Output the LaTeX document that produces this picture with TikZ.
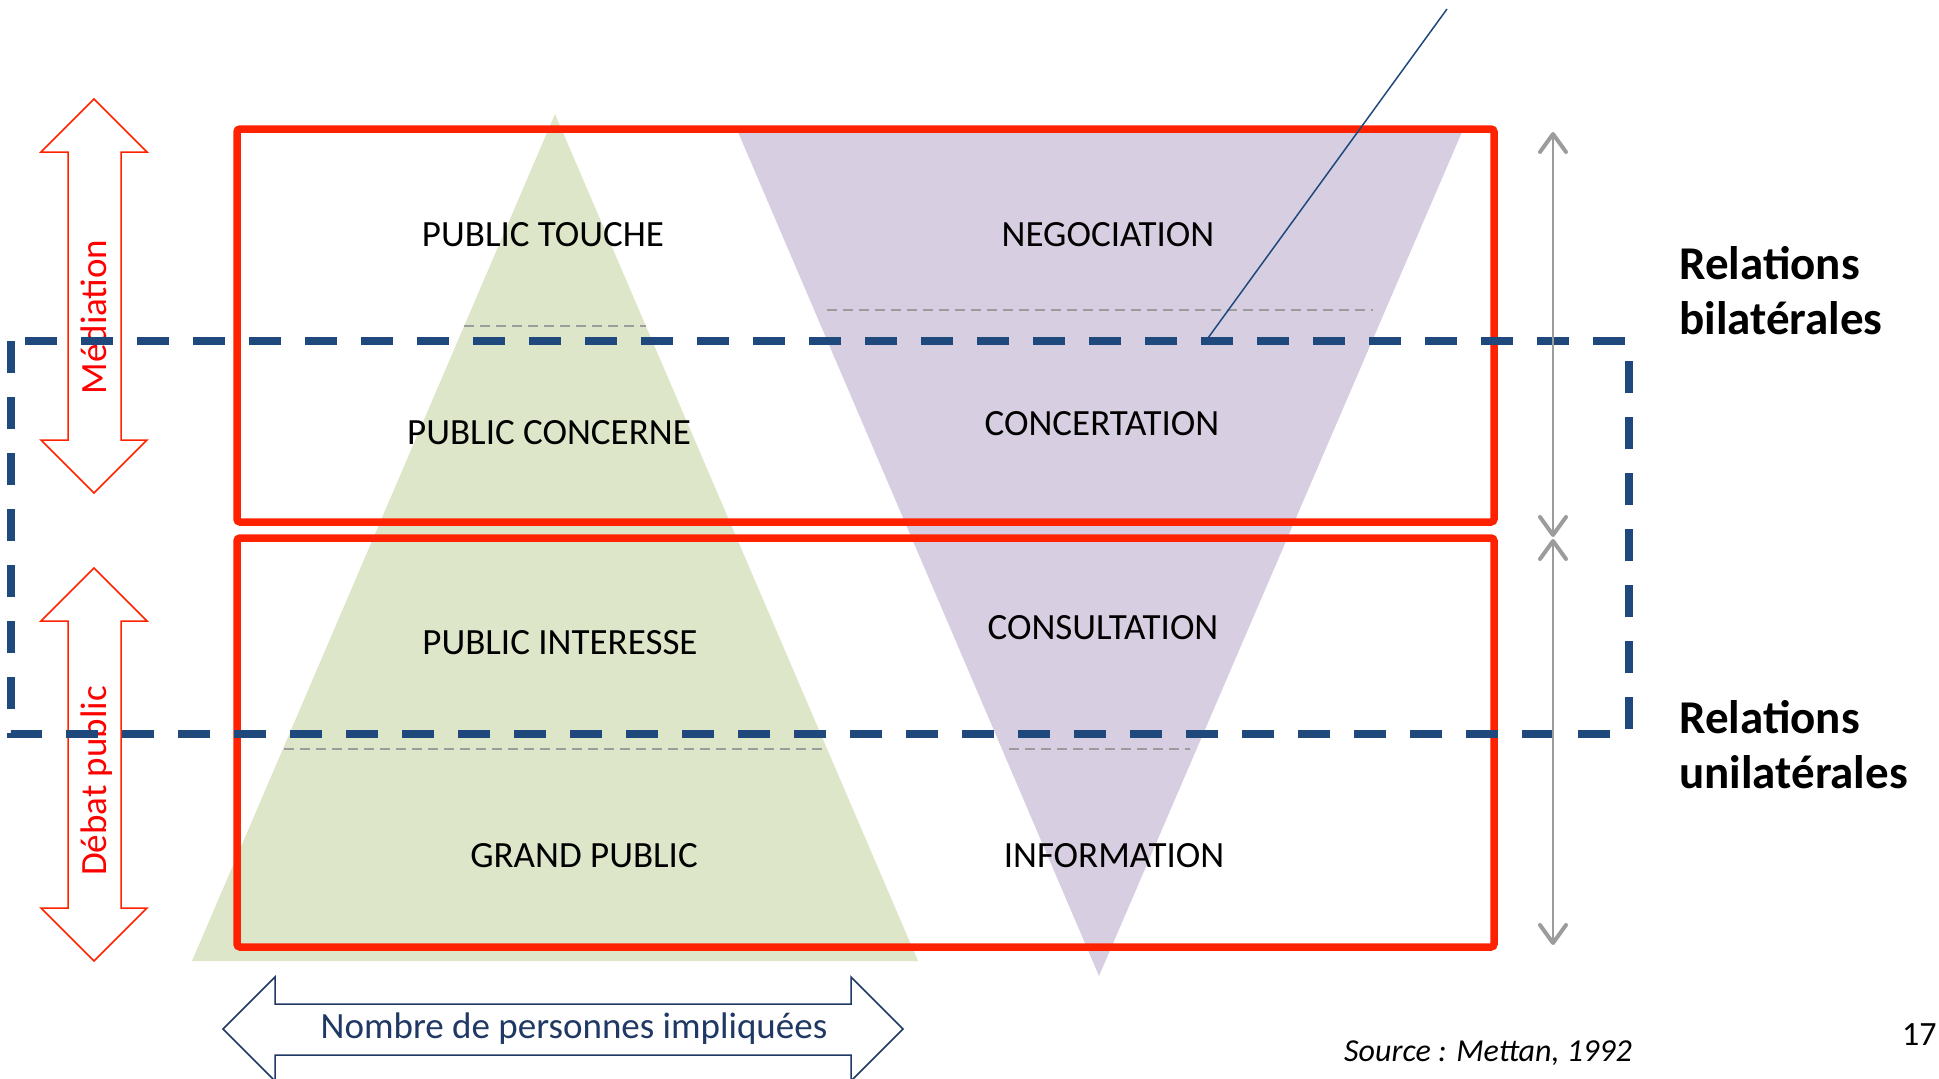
\documentclass[tikz,border=0pt]{standalone}
\usepackage{fontspec}
\setmainfont{Carlito}
\usetikzlibrary{arrows.meta}
\definecolor{mtRed}{HTML}{FF2200}
\definecolor{mtNavy}{HTML}{1F497D}
\definecolor{mtInk}{HTML}{1F3864}
\definecolor{mtGreen}{HTML}{DDE6C8}
\definecolor{mtLilac}{HTML}{D8CEE1}
\definecolor{mtGrey}{HTML}{9C9C9C}

\begin{document}
\begin{tikzpicture}[
  x=1pt,y=-1pt,
  lvl/.style={font=\fontsize{37}{44}\selectfont,inner sep=0pt},
  side/.style={font=\fontsize{47}{55}\selectfont\bfseries,align=left,anchor=west,inner sep=0pt},
  vlbl/.style={font=\fontsize{37}{44}\selectfont,text=red,rotate=90,anchor=base,inner sep=0pt},
  guide/.style={mtGrey,line width=2.5pt,dash pattern=on 10pt off 6pt},
  frame/.style={draw=mtRed,line width=7.5pt,rounded corners=3pt},
  blockarrow/.style={draw=mtRed,line width=1.5pt,fill=white},
  span/.style={mtGrey,line width=2pt,
    {Straight Barb[length=18pt,width=26pt,line width=4pt,round]}-{Straight Barb[length=18pt,width=26pt,line width=4pt,round]}}
]
\useasboundingbox (0,0) rectangle (1939,1079);

% public pyramid and process funnel
\fill[mtGreen] (555,114) -- (918,961) -- (192,961) -- cycle;
\fill[mtLilac] (738,132) -- (1462,132) -- (1099,976) -- cycle;

% level separators
\draw[guide] (464,326) -- (646,326);
\draw[guide] (827,310) -- (1373,310);
\draw[guide] (284,749) -- (827,749);
\draw[guide] (1009,749) -- (1190,749);

% levels
\node[lvl] (touche) at (543,235) {PUBLIC TOUCHE};
\node[lvl] (concerne) at (549,433) {PUBLIC CONCERNE};
\node[lvl] (interesse) at (560,643) {PUBLIC INTERESSE};
\node[lvl] (grand) at (584,856) {GRAND PUBLIC};
\node[lvl] (nego) at (1108,235) {NEGOCIATION};
\node[lvl] (concert) at (1102,424) {CONCERTATION};
\node[lvl] (consult) at (1103,628) {CONSULTATION};
\node[lvl] (info) at (1114,856) {INFORMATION};

% two red frames
\draw[frame] (237,129) rectangle (1494,522);
\draw[frame] (237,538) rectangle (1494,947);

% left block arrows
\draw[blockarrow] (94,99) -- (147,152) -- (121,152) -- (121,440) -- (147,440)
  -- (94,493) -- (41,440) -- (68,440) -- (68,152) -- (41,152) -- cycle;
\node[vlbl] (mediation) at (106,317) {Médiation};
\draw[blockarrow] (94,568) -- (147,621) -- (121,621) -- (121,908) -- (147,908)
  -- (94,961) -- (41,908) -- (68,908) -- (68,621) -- (41,621) -- cycle;
\node[vlbl] (debat) at (106,781) {Débat public};

% bottom block arrow
\draw[draw=mtInk,line width=1.5pt,fill=white] (223,1029) -- (275,977) -- (275,1004)
  -- (851,1004) -- (851,977) -- (903,1029) -- (851,1081) -- (851,1055)
  -- (275,1055) -- (275,1081) -- cycle;
\node[lvl,text=mtInk] (nombre) at (574,1029) {Nombre de personnes impliquées};

% dashed band
\draw[mtNavy,line width=8pt,dash pattern=on 32pt off 24pt] (11,341) rectangle (1629,734);

% pointer line
\coordinate (p0) at (1447,9);
\coordinate (p1) at (1208,338);
\draw[mtNavy,line width=1.5pt] (p0) -- (p1);

% relation spans
\coordinate (s0) at (1553,132);
\coordinate (s1) at (1553,537);
\coordinate (s2) at (1553,539);
\coordinate (s3) at (1553,945);
\draw[span] (s0) -- (s1);
\draw[span] (s2) -- (s3);
\node[side] (bilat) at (1679,291) {Relations\\bilatérales};
\node[side] (unilat) at (1679,745) {Relations\\unilatérales};

% source and page number
\node[font=\fontsize{32}{38}\selectfont\itshape,anchor=base west,inner sep=0pt] (source) at (1344,1061) {Source : Mettan, 1992};
\node[font=\fontsize{34}{40}\selectfont,anchor=base west,inner sep=0pt] (page) at (1902,1045) {17};
\end{tikzpicture}
\end{document}
